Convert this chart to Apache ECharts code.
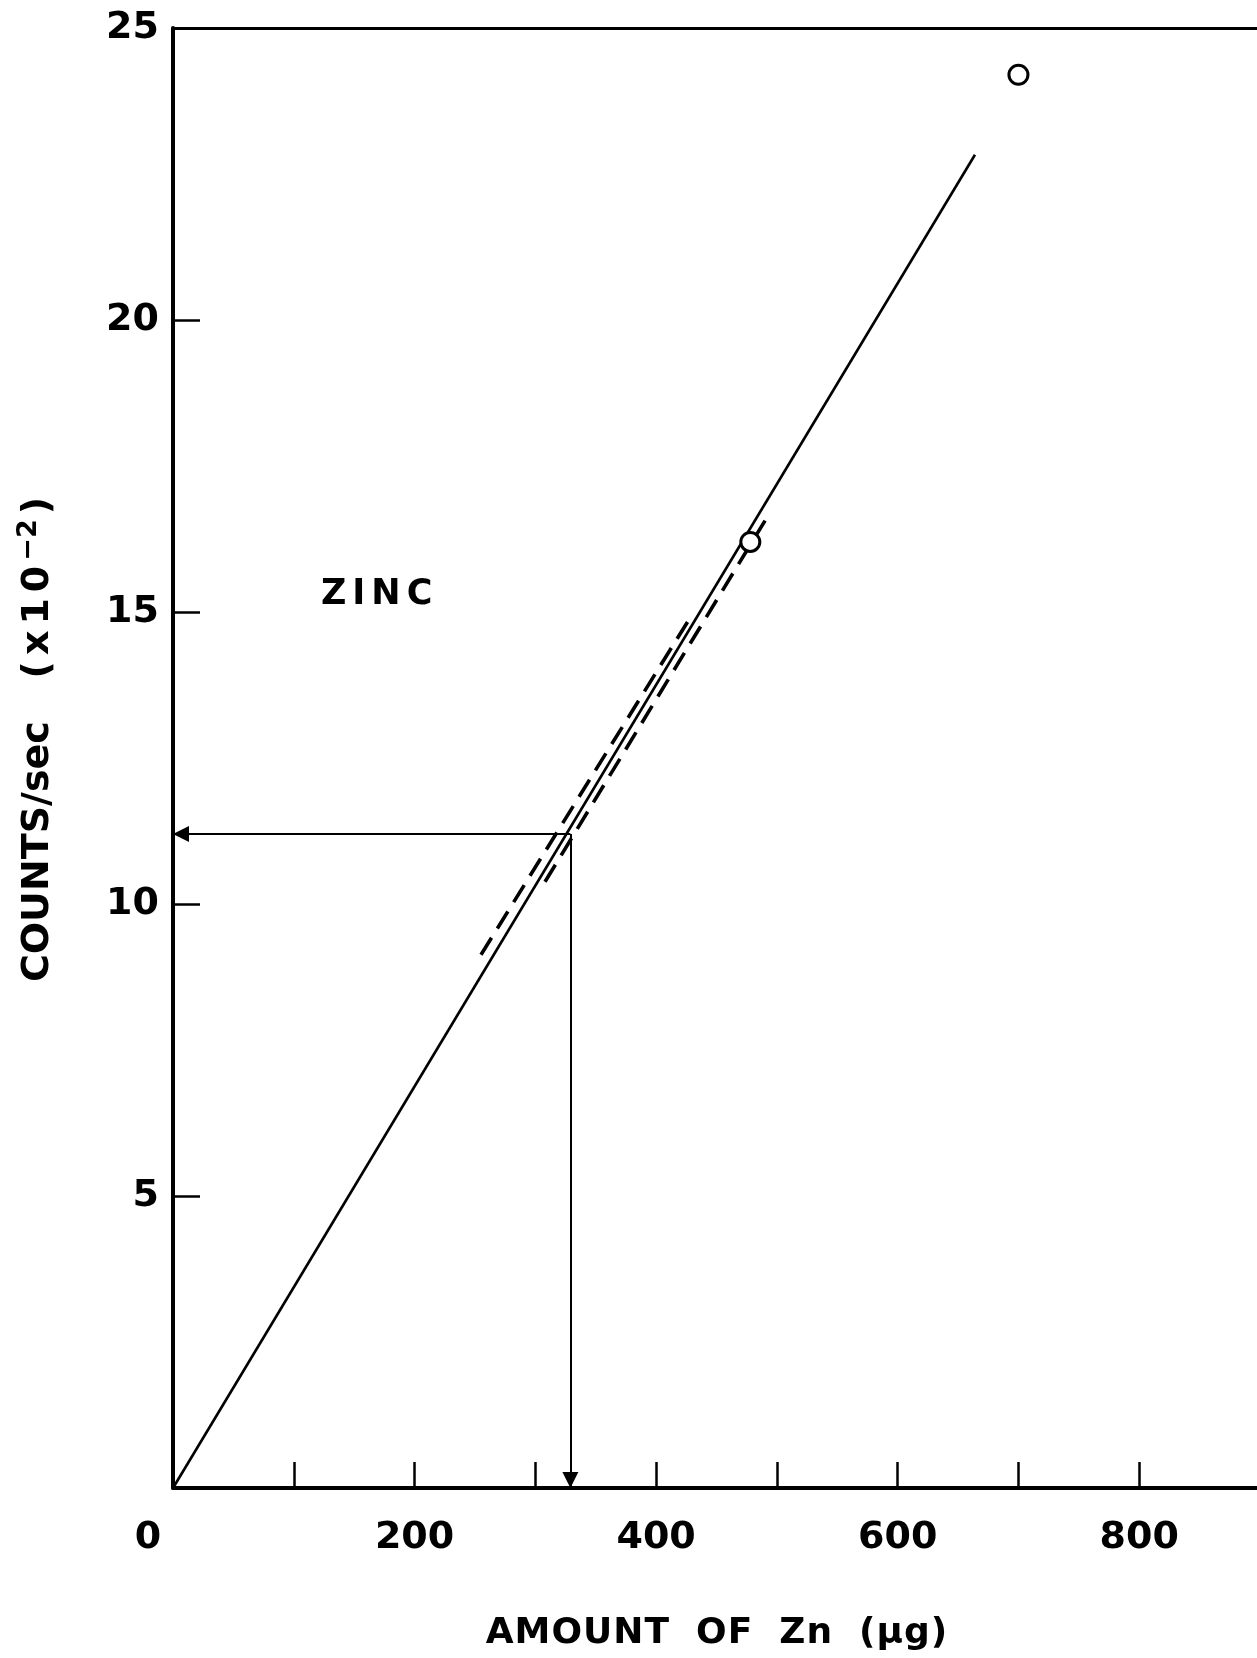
<!DOCTYPE html>
<html>
<head>
<meta charset="utf-8">
<script src="https://cdn.jsdelivr.net/npm/echarts@6/dist/echarts.min.js"></script>
<style>
  html, body { margin: 0; padding: 0; background: #fff; }
  #chart { width: 1257px; height: 1658px; }
</style>
</head>
<body>
<div id="chart"></div>
<script>
// Zinc calibration: counts/sec (×10⁻²) against amount of Zn (μg)
const standardPoints = [[478, 16.2], [700, 24.2]];
const calibrationLine = [[0, 0], [664, 22.83]];
const upperBand = [[255, 9.13], [426, 14.83]];
const lowerBand = [[308, 10.38], [493, 16.66]];
const sampleCounts = 11.2;
const sampleAmount = 329;
const xLabelValues = [0, 200, 400, 600, 800];
const yLabelValues = [5, 10, 15, 20, 25];
const zincLabelAt = [120, 15.3];

const FONT = '"DejaVu Sans", sans-serif';
const INK = '#000';

// Wrap every character in its own rich-text token so letters can be spread apart.
function spaced(str, cls) {
  return Array.from(str).map(ch => '{' + cls + '|' + ch + '}').join('');
}

const chart = echarts.init(document.getElementById('chart'), null, { renderer: 'canvas' });

const option = {
  animation: false,
  backgroundColor: '#fff',
  grid: { left: 173, right: -3, top: 28, bottom: 170, containLabel: false, outerBoundsMode: 'none' },
  xAxis: [{
    type: 'value', min: 0, max: 900, interval: 100,
    axisLine: { show: true, onZero: false, lineStyle: { color: INK, width: 4 } },
    axisTick: { show: true, inside: true, length: 26, lineStyle: { color: INK, width: 2.5 } },
    splitLine: { show: false },
    axisLabel: {
      margin: 31, color: INK, fontFamily: FONT, fontSize: 38, fontWeight: 'bold',
      showMinLabel: true, showMaxLabel: true,
      formatter: v => xLabelValues.includes(v) ? (v === 0 ? '{z|0}' : String(v)) : '',
      rich: { z: { fontFamily: FONT, fontSize: 38, fontWeight: 'bold', color: INK, padding: [0, 50, 0, 0] } }
    },
    name: spaced('AMOUNT', 't') + '{t|  }' + spaced('OF', 't') + '{t|  }' + spaced('Zn', 't') + '{t|  }' + spaced('(μg)', 't'),
    nameLocation: 'middle', nameGap: 128,
    nameTextStyle: {
      color: INK, fontFamily: FONT, fontSize: 36, fontWeight: 'bold',
      rich: { t: { color: INK, fontFamily: FONT, fontSize: 36, fontWeight: 'bold', padding: [0, 0.5, 0, 0.5] } }
    }
  }, {
    type: 'value', position: 'top', min: 0, max: 900,
    axisLine: { show: true, onZero: false, lineStyle: { color: INK, width: 3 } },
    axisTick: { show: false }, axisLabel: { show: false }, splitLine: { show: false }
  }],
  yAxis: {
    type: 'value', min: 0, max: 25, interval: 5,
    axisLine: { show: true, onZero: false, lineStyle: { color: INK, width: 4 } },
    axisTick: { show: true, inside: true, length: 27, lineStyle: { color: INK, width: 2.5 } },
    splitLine: { show: false },
    axisLabel: {
      margin: 14, color: INK, fontFamily: FONT, fontSize: 38, fontWeight: 'bold',
      showMinLabel: true, showMaxLabel: true,
      formatter: v => yLabelValues.includes(v) ? String(v) : ''
    }
  },
  series: [
    {
      type: 'line', data: calibrationLine, symbol: 'none', silent: true, z: 3,
      lineStyle: { color: INK, width: 2.6 },
      markLine: {
        silent: true, animation: false,
        symbol: ['none', 'triangle'], symbolSize: 16,
        symbolOffset: [[0, 0], [0, 8]],
        label: { show: false },
        lineStyle: { color: INK, width: 2, type: 'solid' },
        emphasis: { disabled: true },
        data: [
          [{ coord: [sampleAmount, sampleCounts] }, { coord: [0, sampleCounts] }],
          [{ coord: [sampleAmount, sampleCounts] }, { coord: [sampleAmount, 0] }]
        ]
      }
    },
    {
      type: 'line', data: upperBand, symbol: 'none', silent: true, z: 3,
      lineStyle: { color: INK, width: 3.6, type: [20, 11] }
    },
    {
      type: 'line', data: lowerBand, symbol: 'none', silent: true, z: 3,
      lineStyle: { color: INK, width: 3.6, type: [20, 11] }
    },
    {
      type: 'scatter', data: standardPoints, symbol: 'circle', symbolSize: 19, silent: true, z: 5,
      itemStyle: { color: '#fff', borderColor: INK, borderWidth: 3, opacity: 1 }
    }
  ]
};

chart.setOption(option);

const zincPx = chart.convertToPixel({ gridIndex: 0 }, zincLabelAt);
chart.setOption({
  graphic: [
    {
      type: 'text', x: 38, y: 738, rotation: Math.PI / 2, silent: true,
      style: {
        text: '{a|COUNTS/sec   }' + spaced('(x10', 'b') + '{s|−2}' + '{b|)}',
        fill: INK, fontFamily: FONT, fontSize: 38, fontWeight: 'bold',
        align: 'center', verticalAlign: 'middle',
        rich: {
          a: { fill: INK, fontFamily: FONT, fontSize: 38, fontWeight: 'bold', lineHeight: 46 },
          b: { fill: INK, fontFamily: FONT, fontSize: 38, fontWeight: 'bold', lineHeight: 46, padding: [0, 3, 0, 3] },
          s: { fill: INK, fontFamily: FONT, fontSize: 27, fontWeight: 'bold', verticalAlign: 'top', padding: [0, 2, 0, 2] }
        }
      }
    },
    {
      type: 'text', x: zincPx[0], y: zincPx[1], silent: true,
      style: {
        text: spaced('ZINC', 'z'), fill: INK,
        fontFamily: FONT, fontSize: 35, fontWeight: 'bold',
        align: 'left', verticalAlign: 'middle',
        rich: { z: { fill: INK, fontFamily: FONT, fontSize: 35, fontWeight: 'bold', padding: [0, 3, 0, 3] } }
      }
    }
  ]
});
</script>
</body>
</html>
